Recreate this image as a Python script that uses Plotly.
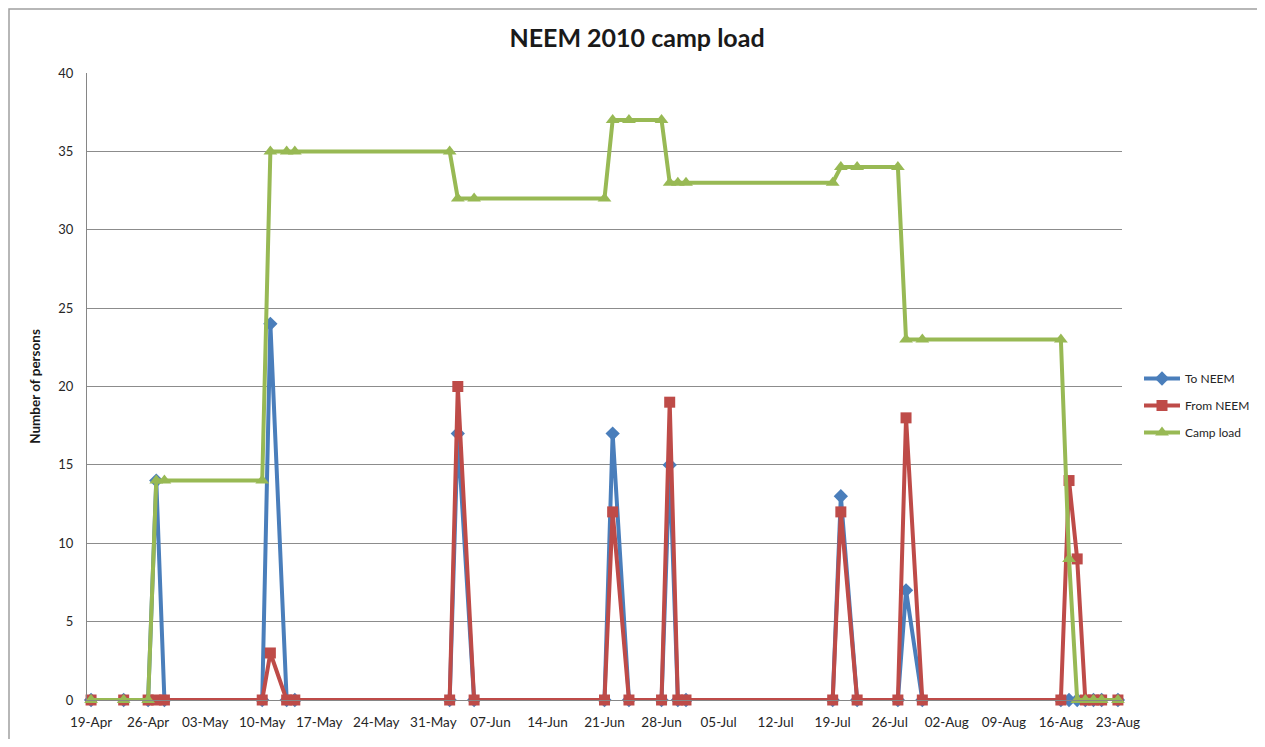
import plotly.graph_objects as go

dates = ["2010-04-19", "2010-04-23", "2010-04-26", "2010-04-27", "2010-04-28",
         "2010-05-10", "2010-05-11", "2010-05-13", "2010-05-14",
         "2010-06-02", "2010-06-03", "2010-06-05",
         "2010-06-21", "2010-06-22", "2010-06-24",
         "2010-06-28", "2010-06-29", "2010-06-30", "2010-07-01",
         "2010-07-19", "2010-07-20", "2010-07-22",
         "2010-07-27", "2010-07-28", "2010-07-30",
         "2010-08-16", "2010-08-17", "2010-08-18", "2010-08-19", "2010-08-20", "2010-08-21", "2010-08-23"]
to_neem = [0, 0, 0, 14, 0, 0, 24, 0, 0, 0, 17, 0, 0, 17, 0, 0, 15, 0, 0, 0, 13, 0, 0, 7, 0, 0, 0, 0, 0, 0, 0, 0]
from_neem = [0, 0, 0, 0, 0, 0, 3, 0, 0, 0, 20, 0, 0, 12, 0, 0, 19, 0, 0, 0, 12, 0, 0, 18, 0, 0, 14, 9, 0, 0, 0, 0]
camp_load = [0, 0, 0, 14, 14, 14, 35, 35, 35, 35, 32, 32, 32, 37, 37, 37, 33, 33, 33, 33, 34, 34, 34, 23, 23, 23, 9, 0, 0, 0, 0, 0]

tick_dates = ["2010-04-19", "2010-04-26", "2010-05-03", "2010-05-10", "2010-05-17", "2010-05-24",
              "2010-05-31", "2010-06-07", "2010-06-14", "2010-06-21", "2010-06-28", "2010-07-05",
              "2010-07-12", "2010-07-19", "2010-07-26", "2010-08-02", "2010-08-09", "2010-08-16",
              "2010-08-23"]
tick_labels = ["19-Apr", "26-Apr", "03-May", "10-May", "17-May", "24-May", "31-May", "07-Jun",
               "14-Jun", "21-Jun", "28-Jun", "05-Jul", "12-Jul", "19-Jul", "26-Jul", "02-Aug",
               "09-Aug", "16-Aug", "23-Aug"]

FONT = "Lato"
BLUE = "#4A7EBB"
RED = "#BE4B48"
GREEN = "#98B954"

W, H = 1249, 731
L, T = 79, 65
PW, PH = 1035, 627
R, B = W - L - PW, H - T - PH

fig = go.Figure()
fig.add_trace(go.Scatter(x=dates, y=to_neem, name="To NEEM", mode="lines+markers",
                         legendgroup="a", cliponaxis=False,
                         line=dict(color=BLUE, width=4),
                         marker=dict(symbol="diamond", size=11, color=BLUE)))
fig.add_trace(go.Scatter(x=dates, y=from_neem, name="From NEEM", mode="lines+markers",
                         legendgroup="b", cliponaxis=False,
                         line=dict(color=RED, width=4),
                         marker=dict(symbol="square", size=11, color=RED)))
fig.add_trace(go.Scatter(x=dates, y=camp_load, name="Camp load", mode="lines+markers",
                         legendgroup="c", cliponaxis=False,
                         line=dict(color=GREEN, width=4),
                         marker=dict(symbol="triangle-up", size=12, color=GREEN)))

fig.update_layout(
    width=W, height=H,
    margin=dict(l=L, r=R, t=T, b=B, autoexpand=False),
    paper_bgcolor="white", plot_bgcolor="white",
    font=dict(family=FONT, size=12, color="#262626"),
    title=dict(text="<b>NEEM 2010 camp load</b>", x=629 / W, xref="container",
               y=1 - 30 / H, yref="container", xanchor="center", yanchor="middle",
               font=dict(family=FONT, size=25, color="#1a1a1a")),
    legend=dict(x=(1131 - L) / PW, y=(T + PH - 356) / PH, xanchor="left", yanchor="top",
                font=dict(family=FONT, size=12, color="#262626"),
                bgcolor="rgba(0,0,0,0)", itemwidth=36,
                traceorder="grouped", tracegroupgap=8),
    showlegend=True,
)
fig.update_xaxes(
    type="date", range=["2010-04-18 12:00", "2010-08-23 12:00"],
    tickvals=tick_dates, ticktext=tick_labels, tickangle=0,
    showgrid=False, showline=True, linecolor="#868686", linewidth=1,
    ticks="", ticklabelstandoff=10,
    tickfont=dict(family=FONT, size=13.5, color="#262626"),
    zeroline=False,
)
fig.update_yaxes(
    range=[0, 40], dtick=5, tick0=0,
    showgrid=True, gridcolor="#8c8c8c", gridwidth=1,
    showline=True, linecolor="#868686", linewidth=1,
    zeroline=False, ticks="", ticklabelstandoff=10,
    tickfont=dict(family=FONT, size=13, color="#262626"),
    title=dict(text="<b>Number of persons</b>", standoff=14,
               font=dict(family=FONT, size=13.5, color="#1a1a1a")),
)

# outer chart border
fig.add_shape(type="rect", xref="paper", yref="paper",
              x0=(-L + 1) / PW, x1=(W + 20 - L) / PW,
              y0=-(B + 20) / PH, y1=(PH + T - 1) / PH,
              line=dict(color="#a0a0a0", width=1.5), fillcolor="rgba(0,0,0,0)", layer="below")

fig.write_html("out.html")
